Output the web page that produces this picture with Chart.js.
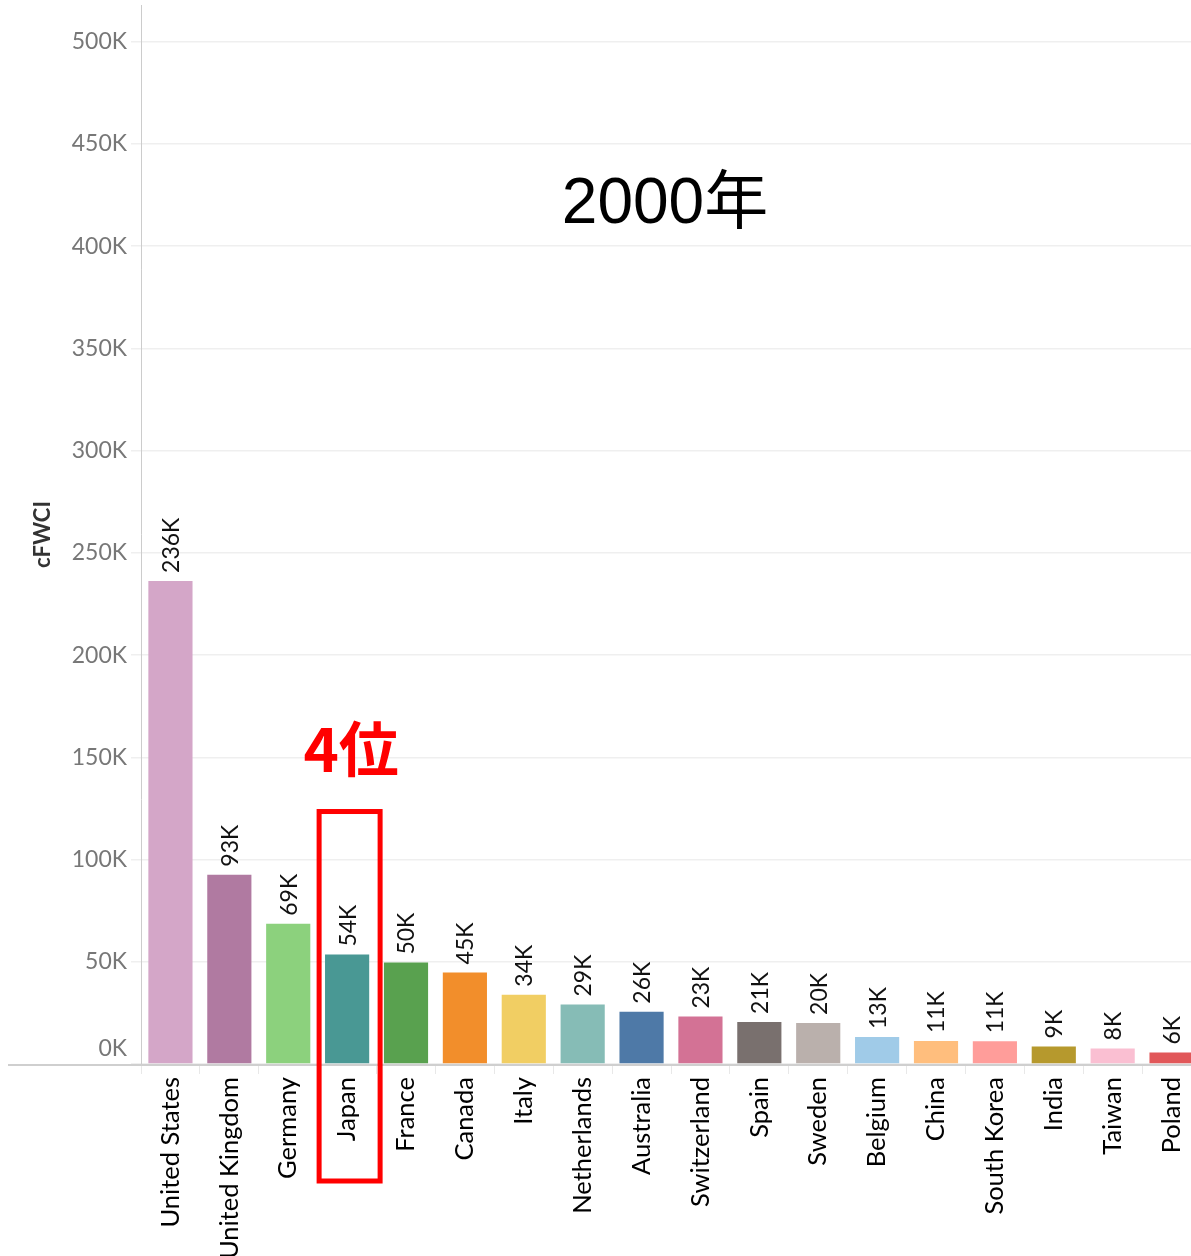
<!DOCTYPE html>
<html>
<head>
<meta charset="utf-8">
<script src="https://cdn.jsdelivr.net/npm/chart.js@4/dist/chart.umd.min.js"></script>
<style>
html, body { margin: 0; padding: 0; background: #fff; overflow: hidden; width: 1191px; height: 1256px; }
#wrap { position: absolute; left: 0; top: 0; width: 1201px; height: 1256px; }
</style>
</head>
<body>
<div id="wrap"><canvas id="c" width="1201" height="1256"></canvas></div>
<script>
const countries = ["United States","United Kingdom","Germany","Japan","France","Canada","Italy","Netherlands","Australia","Switzerland","Spain","Sweden","Belgium","China","South Korea","India","Taiwan","Poland"];
const cfwciK = [236.3, 92.6, 68.6, 53.5, 49.6, 44.8, 33.9, 29.1, 25.6, 23.2, 20.6, 20.1, 13.2, 11.2, 11.1, 8.6, 7.6, 5.6];
const barColors = ["#D4A6C8","#B07AA1","#8CD17D","#499894","#59A14F","#F28E2B","#F1CE63","#86BCB6","#4E79A7","#D37295","#79706E","#BAB0AC","#A0CBE8","#FFBE7D","#FF9D9A","#B6992D","#FABFD2","#E15759"];
const yTicksK = [0, 50, 100, 150, 200, 250, 300, 350, 400, 450, 500];
const yearTitle = "2000年";
const rankText = "4位";
const highlightCountry = "Japan";
const axisTitle = "cFWCI";

const values = cfwciK.map(v => v * 1000);
const FONT = "Lato, 'Open Sans', sans-serif";
const fmtK = k => k + 'K';

const overlay = {
  id: 'overlay',
  afterDatasetsDraw(chart) {
    const ctx = chart.ctx;
    const xs = chart.scales.x, ys = chart.scales.y;
    const meta = chart.getDatasetMeta(0);
    ctx.save();
    ctx.fillStyle = '#111';
    ctx.font = '23px ' + FONT;
    ctx.textAlign = 'left';
    ctx.textBaseline = 'middle';
    meta.data.forEach((bar, i) => {
      ctx.save();
      ctx.translate(bar.x, bar.y - 8);
      ctx.rotate(-Math.PI / 2);
      ctx.fillText(fmtK(Math.round(cfwciK[i])), 0, 1);
      ctx.restore();
    });
    ctx.restore();
    const y0 = ys.getPixelForValue(0);
    ctx.save();
    ctx.fillStyle = '#777';
    ctx.font = '23px ' + FONT;
    ctx.textAlign = 'right';
    ctx.textBaseline = 'middle';
    ctx.fillText(fmtK(yTicksK[0]), ys.right - 14, y0 - 15);
    ctx.restore();
    ctx.save();
    ctx.strokeStyle = '#cfcfcf';
    ctx.lineWidth = 2;
    ctx.beginPath();
    ctx.moveTo(8, y0 + 1);
    ctx.lineTo(chart.width, y0 + 1);
    ctx.stroke();
    ctx.restore();
    const hi = countries.indexOf(highlightCountry);
    const cx = xs.getPixelForValue(hi);
    ctx.save();
    ctx.strokeStyle = '#ff0000';
    ctx.lineWidth = 5;
    const top = ys.getPixelForValue(123500);
    const bottom = y0 + 117;
    ctx.strokeRect(cx - 28, top, 61, bottom - top);
    ctx.restore();
    ctx.save();
    ctx.fillStyle = '#ff0000';
    ctx.font = 'bold 60px "Noto Sans CJK JP", sans-serif';
    ctx.textAlign = 'center';
    ctx.textBaseline = 'middle';
    ctx.fillText(rankText, cx + 4, ys.getPixelForValue(154000));
    ctx.restore();
    ctx.save();
    ctx.fillStyle = '#000';
    ctx.font = '64px "Liberation Sans", Arial, "Noto Sans CJK JP", sans-serif';
    ctx.textAlign = 'center';
    ctx.textBaseline = 'middle';
    ctx.fillText(yearTitle, (chart.chartArea.left + chart.chartArea.right) / 2 - 6, ys.getPixelForValue(420000));
    ctx.restore();
  }
};

new Chart(document.getElementById('c'), {
  type: 'bar',
  data: {
    labels: countries,
    datasets: [{
      data: values,
      backgroundColor: barColors,
      borderWidth: 0,
      categoryPercentage: 1.0,
      barPercentage: 0.75
    }]
  },
  options: {
    responsive: false,
    animation: false,
    devicePixelRatio: 1,
    layout: { padding: { top: 5, left: 0, right: 0, bottom: 0 } },
    plugins: { legend: { display: false }, tooltip: { enabled: false } },
    scales: {
      x: {
        grid: { display: true, drawOnChartArea: false, drawTicks: true, tickLength: 10, color: '#e8e8e8', offset: true },
        border: { display: false },
        ticks: {
          minRotation: 90, maxRotation: 90, autoSkip: false, padding: 3,
          color: '#000', font: { family: FONT, size: 25.5 }
        },
        afterFit(scale) { scale.height = 192; scale.paddingLeft = 0; scale.paddingRight = 0; }
      },
      y: {
        min: 0, max: 518000,
        grid: { color: '#efefef', lineWidth: 1.5, tickLength: 10, drawTicks: true },
        border: { display: true, color: '#cccccc', width: 1 },
        ticks: {
          padding: 4,
          color: '#777', font: { family: FONT, size: 23 },
          callback: v => v === 0 ? '' : fmtK(v / 1000)
        },
        afterBuildTicks(scale) { scale.ticks = yTicksK.map(k => ({ value: k * 1000 })); },
        title: {
          display: true, text: axisTitle, color: '#333',
          font: { family: FONT, size: 22, weight: 'bold' },
          padding: { top: 30, bottom: 0 }
        },
        afterFit(scale) { scale.width = 141; scale.paddingTop = 0; scale.paddingBottom = 0; }
      }
    }
  },
  plugins: [overlay]
});
</script>
</body>
</html>
